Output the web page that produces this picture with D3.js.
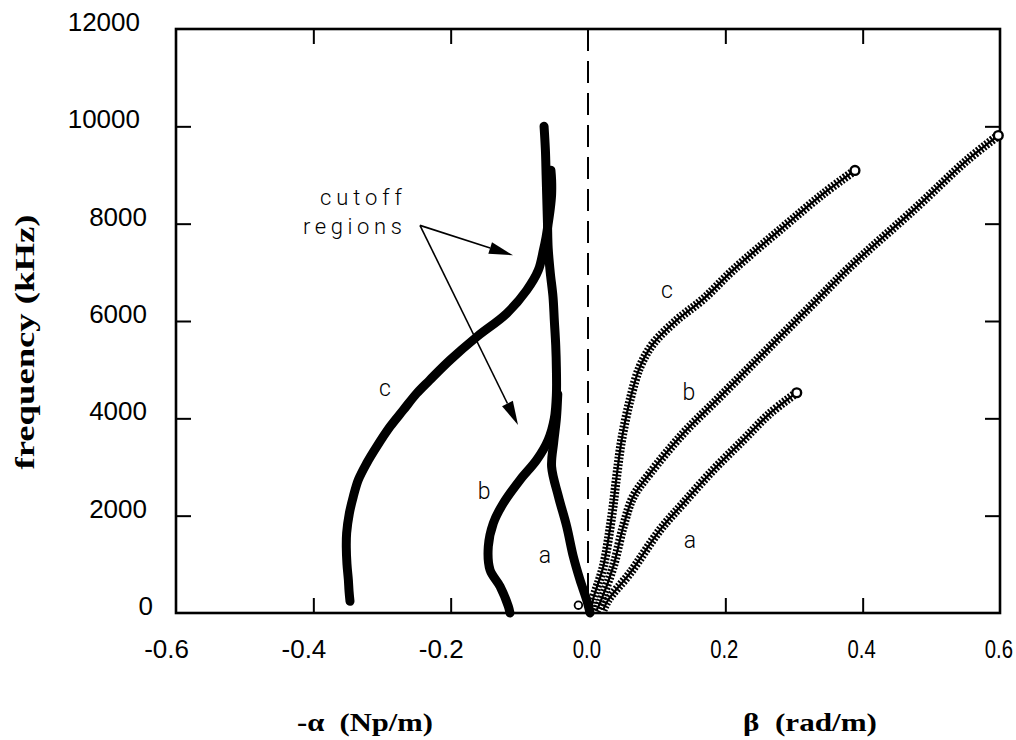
<!DOCTYPE html>
<html><head><meta charset="utf-8">
<script src="https://cdn.jsdelivr.net/npm/d3@7"></script>
<style>
html,body{margin:0;padding:0;background:#fff;}
svg{display:block;}
</style></head><body>
<svg id="chart" width="1016" height="740"></svg>
<script>
// ---------- data ----------
const xTickValues = [-0.6, -0.4, -0.2, 0.0, 0.2, 0.4, 0.6];
const xTickLabels = ["-0.6", "-0.4", "-0.2", "0.0", "0.2", "0.4", "0.6"];
const yTickValues = [0, 2000, 4000, 6000, 8000, 10000, 12000];
const yTickLabels = ["0", "2000", "4000", "6000", "8000", "10000", "12000"];

// -alpha (Np/m) vs frequency (kHz)
const alphaA = [[0.003,0],[-0.002,273],[-0.0117,683],[-0.0214,1161],[-0.031,1777],[-0.043,2392],[-0.053,3008],[-0.050,3500],[-0.046,4000],[-0.044,4500]];
const alphaB = [[-0.1136,0],[-0.116,135],[-0.128,546],[-0.1427,888],[-0.1452,1367],[-0.1379,1846],[-0.1233,2256],[-0.099,2734],[-0.0747,3145],[-0.058,3555],[-0.049,4000],[-0.046,4500],[-0.046,5000],[-0.047,5500],[-0.049,6000],[-0.051,6500],[-0.055,7000],[-0.058,7500],[-0.059,8000],[-0.060,8500],[-0.061,9000],[-0.062,9500],[-0.064,10000]];
const alphaC = [[-0.3466,240],[-0.348,450],[-0.349,683],[-0.351,1000],[-0.352,1350],[-0.3515,1641],[-0.3475,2051],[-0.3418,2392],[-0.3345,2734],[-0.3223,3077],[-0.3077,3418],[-0.2883,3828],[-0.269,4170],[-0.2495,4513],[-0.2305,4786],[-0.201,5196],[-0.162,5674],[-0.1184,6154],[-0.0893,6632],[-0.0724,7042],[-0.065,7452],[-0.061,7725],[-0.058,8000],[-0.055,8300],[-0.053,8600],[-0.053,8900],[-0.054,9100]];
const alphaStartPoint = [[-0.014,160]];

// beta (rad/m) vs frequency (kHz)
const betaA = [[0.022,60],[0.0296,273],[0.0612,820],[0.105,1709],[0.1388,2256],[0.1825,2940],[0.2262,3555],[0.265,4103],[0.304,4526]];
const betaB = [[0.012,40],[0.0175,205],[0.0369,957],[0.0514,1777],[0.066,2392],[0.0903,2872],[0.1388,3692],[0.1874,4375],[0.2359,5058],[0.2844,5744],[0.333,6427],[0.3815,7110],[0.4787,8340],[0.5515,9298],[0.5975,9811]];
const betaC = [[0.005,60],[0.0073,273],[0.0223,957],[0.0345,1982],[0.0417,2803],[0.049,3555],[0.0612,4375],[0.0757,5058],[0.0951,5538],[0.1291,6016],[0.1679,6450],[0.2116,7050],[0.2844,7930],[0.3427,8615],[0.3888,9094]];

const curveLabelText = ["c", "b", "a", "c", "b", "a"];
const curveLabelX = [-0.2956, -0.1514, -0.0626, 0.115, 0.147, 0.1485];
const curveLabelF = [4622, 2488, 1175, 6632, 4540, 1483];

const noteLines = ["cutoff", "regions"];
const noteX = -0.271;
const noteF = [8376, 7796];
const arrowFrom = [-0.2447, 7965];
const arrowTips = [[-0.1092, 7350], [-0.1019, 3862]];

// ---------- layout ----------
const svg = d3.select("#chart");
const L = 176, R = 1000, T = 29, B = 613;
const x = d3.scaleLinear().domain([-0.6, 0.6]).range([L, R]);
const y = d3.scaleLinear().domain([0, 12000]).range([B, T]);
const sans = "'Liberation Sans', Arial, Helvetica, sans-serif";
const serif = "'Liberation Serif', 'Times New Roman', Times, serif";

svg.append("rect").attr("width", 1016).attr("height", 740).attr("fill", "#fff");

// inward ticks
const inner = xTickValues.filter(v => v > -0.6 && v < 0.6 && v !== 0);
const innerY = yTickValues.filter(v => v > 0 && v < 12000);
function styleAxis(g) {
  g.select(".domain").remove();
  g.selectAll(".tick line").attr("stroke", "#000").attr("stroke-width", 2);
  g.selectAll(".tick text").remove();
}
svg.append("g").attr("transform", `translate(0,${B})`)
  .call(d3.axisBottom(x).tickValues(inner).tickSize(-15).tickFormat("")).call(styleAxis);
svg.append("g").attr("transform", `translate(0,${T})`)
  .call(d3.axisTop(x).tickValues(inner).tickSize(-15).tickFormat("")).call(styleAxis);
svg.append("g").attr("transform", `translate(${L},0)`)
  .call(d3.axisLeft(y).tickValues(innerY).tickSize(-15).tickFormat("")).call(styleAxis);
svg.append("g").attr("transform", `translate(${R},0)`)
  .call(d3.axisRight(y).tickValues(innerY).tickSize(-15).tickFormat("")).call(styleAxis);

// frame
svg.append("rect").attr("x", L).attr("y", T).attr("width", R - L).attr("height", B - T)
  .attr("fill", "none").attr("stroke", "#000").attr("stroke-width", 2.6);

// dashed zero line
svg.append("line").attr("x1", x(0)).attr("x2", x(0)).attr("y1", y(12000)).attr("y2", y(0))
  .attr("stroke", "#000").attr("stroke-width", 2).attr("stroke-dasharray", "22,10");

// tick labels
xTickValues.forEach((v, i) => {
  svg.append("text")
    .attr("transform", `translate(${x(v) + 13},658) scale(${v >= 0 ? 0.78 : 1},1)`)
    .attr("text-anchor", "end").attr("font-family", sans).attr("font-size", 26)
    .text(xTickLabels[i]);
});
yTickValues.forEach((v, i) => {
  const lab = yTickLabels[i];
  const xe = lab.length >= 5 ? 140 : (lab.length === 1 ? 153 : 147);
  svg.append("text").attr("x", xe).attr("y", y(v) + 2)
    .attr("text-anchor", "end").attr("font-family", sans).attr("font-size", 26)
    .text(lab);
});

// axis titles
svg.append("text").attr("transform", "translate(34,342) rotate(-90)")
  .attr("text-anchor", "middle").attr("font-family", serif).attr("font-weight", "bold")
  .attr("font-size", 28).attr("textLength", 255).attr("lengthAdjust", "spacingAndGlyphs")
  .text("frequency (kHz)");
svg.append("text").attr("x", 297).attr("y", 731).style("white-space", "pre")
  .attr("font-family", serif).attr("font-weight", "bold").attr("font-size", 26)
  .attr("textLength", 136).attr("lengthAdjust", "spacingAndGlyphs")
  .text("-\u03B1  (Np/m)");
svg.append("text").attr("x", 743).attr("y", 731).style("white-space", "pre")
  .attr("font-family", serif).attr("font-weight", "bold").attr("font-size", 26)
  .attr("textLength", 134).attr("lengthAdjust", "spacingAndGlyphs")
  .text("\u03B2  (rad/m)");

// curves
const line = d3.line().x(d => x(d[0])).y(d => y(d[1])).curve(d3.curveCatmullRom.alpha(0.5));
[alphaA, alphaB, alphaC].forEach(data => {
  svg.append("path").attr("d", line(data)).attr("fill", "none").attr("stroke", "#000")
    .attr("stroke-width", 9).attr("stroke-linecap", "round").attr("stroke-linejoin", "round");
});
svg.selectAll(".astart").data(alphaStartPoint).enter().append("circle")
  .attr("cx", d => x(d[0])).attr("cy", d => y(d[1])).attr("r", 3.8)
  .attr("fill", "#fff").attr("stroke", "#000").attr("stroke-width", 1.8);

[betaA, betaB, betaC].forEach(data => {
  svg.append("path").attr("d", line(data)).attr("fill", "none").attr("stroke", "#000")
    .attr("stroke-width", 2.2);
  svg.append("path").attr("d", line(data)).attr("fill", "none").attr("stroke", "#000")
    .attr("stroke-width", 9).attr("stroke-dasharray", "1.9,1.6");
  const last = data[data.length - 1];
  svg.append("circle").attr("cx", x(last[0])).attr("cy", y(last[1])).attr("r", 4.4)
    .attr("fill", "#fff").attr("stroke", "#000").attr("stroke-width", 2.4);
});

// curve labels
curveLabelText.forEach((t, i) => {
  svg.append("text").attr("x", x(curveLabelX[i])).attr("y", y(curveLabelF[i]))
    .attr("text-anchor", "middle").attr("dominant-baseline", "central")
    .attr("font-family", "Roboto, " + sans).attr("font-weight", 300).attr("font-size", 23)
    .text(t);
});

// annotation
noteLines.forEach((t, i) => {
  svg.append("text").attr("x", x(noteX)).attr("y", y(noteF[i]))
    .attr("text-anchor", "end").attr("font-family", "Roboto, " + sans).attr("font-weight", 300)
    .attr("font-size", 22).attr("textLength", i === 0 ? 82 : 99).attr("lengthAdjust", "spacing")
    .text(t);
});
arrowTips.forEach(tip => {
  const x0 = x(arrowFrom[0]), y0 = y(arrowFrom[1]), x1 = x(tip[0]), y1 = y(tip[1]);
  const ang = Math.atan2(y1 - y0, x1 - x0);
  const len = 24, hw = 6;
  const bx = x1 - len * Math.cos(ang), by = y1 - len * Math.sin(ang);
  svg.append("line").attr("x1", x0).attr("y1", y0).attr("x2", bx).attr("y2", by)
    .attr("stroke", "#000").attr("stroke-width", 1.6);
  const px = -Math.sin(ang) * hw, py = Math.cos(ang) * hw;
  svg.append("path").attr("d", `M${x1},${y1}L${bx + px},${by + py}L${bx - px},${by - py}Z`)
    .attr("fill", "#000");
});
</script>
</body></html>
